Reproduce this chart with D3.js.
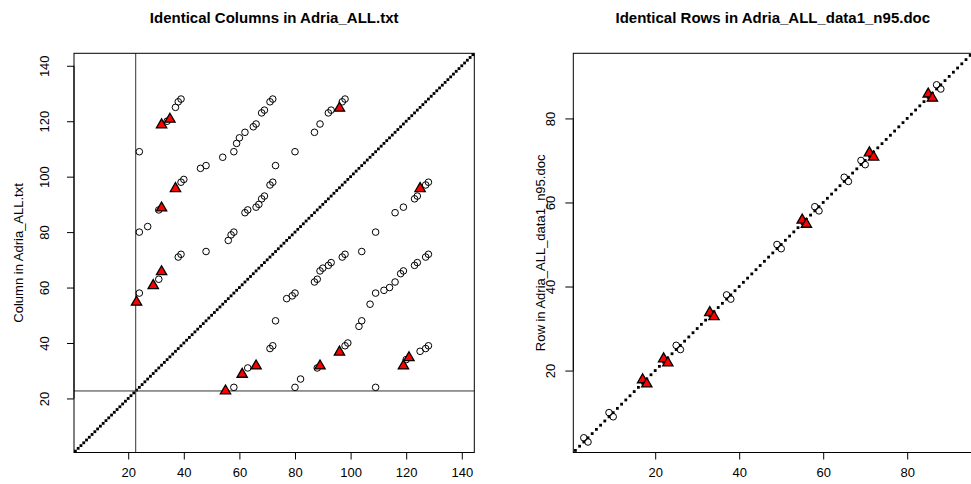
<!DOCTYPE html>
<html>
<head>
<meta charset="utf-8">
<script src="https://cdn.jsdelivr.net/npm/d3@7"></script>
<style>
  html, body { margin: 0; padding: 0; background: #fff; }
  svg { display: block; }
  text { font-family: "Liberation Sans", Arial, Helvetica, sans-serif; fill: #000; }
</style>
</head>
<body>
<svg id="chart" width="971" height="484"></svg>
<script>
// ---- Identical columns (Adria_ALL.txt): 144 columns ----
const nCols = 144;
const colCircleX = [109,125,127,128,120,103,104,98,99,88,80,82,73,71,72,63,58,107,109,112,114,116,118,119,123,124,127,128,109,116,119,123,124,104,97,98,89,90,92,93,87,88,77,79,80,127,128,
                    24,37,38,39,34,46,48,39,40,31,24,27,48,38,39,31,24,54,58,59,60,62,65,66,68,69,71,72,80,87,89,92,93,73,71,72,66,67,68,69,62,63,56,57,58,97,98];
const colCircleY = [24,37,38,39,34,46,48,39,40,31,24,27,48,38,39,31,24,54,58,59,60,62,65,66,68,69,71,72,80,87,89,92,93,73,71,72,66,67,68,69,62,63,56,57,58,97,98,
                    109,125,127,128,120,103,104,98,99,88,80,82,73,71,72,63,58,107,109,112,114,116,118,119,123,124,127,128,109,116,119,123,124,104,97,98,89,90,92,93,87,88,77,79,80,127,128];
const colTriX = [55,61,66,89,96,119,121,125, 23,29,32,32,37,32,35,96];
const colTriY = [23,29,32,32,37,32,35,96, 55,61,66,89,96,119,121,125];
const colMarker = 22.7;          // reference column drawn as cross-hair
const colTicks = [20,40,60,80,100,120,140];

// ---- Identical rows (Adria_ALL_data1_n95.doc): 95 rows ----
const nRows = 95;
const rowCircleX = [3,4,9,10,25,26,37,38,49,50,58,59,65,66,69,70,87,88];
const rowCircleY = [4,3,10,9,26,25,38,37,50,49,59,58,66,65,70,69,88,87];
const rowTriX = [17,18,22,23,33,34,55,56,71,72,85,86];
const rowTriY = [18,17,23,22,34,33,56,55,72,71,86,85];
const rowTicks = [20,40,60,80];

const svg = d3.select("#chart");

function panel(opts) {
  const g = svg.append("g");
  const x = d3.scaleLinear().domain([0.5, opts.n + 0.5]).range([opts.left, opts.right]);
  const y = d3.scaleLinear().domain([0.5, opts.n + 0.5]).range([opts.bottom, opts.top]);

  // diagonal: every item is identical to itself
  const diag = d3.range(1, opts.n + 1);
  const sq = 2.8;
  g.append("g").selectAll("rect").data(diag).join("rect")
    .attr("x", d => x(d) - sq / 2).attr("y", d => y(d) - sq / 2)
    .attr("width", sq).attr("height", sq).attr("fill", "#000");

  if (opts.marker != null) {
    g.append("line").attr("x1", x(opts.marker)).attr("x2", x(opts.marker))
      .attr("y1", opts.top).attr("y2", opts.bottom)
      .attr("stroke", "#333").attr("stroke-width", 1);
    g.append("line").attr("y1", y(opts.marker)).attr("y2", y(opts.marker))
      .attr("x1", opts.left).attr("x2", opts.right)
      .attr("stroke", "#333").attr("stroke-width", 1);
  }

  // duplicate pairs
  g.append("g").selectAll("circle").data(d3.range(opts.cx.length)).join("circle")
    .attr("cx", i => x(opts.cx[i])).attr("cy", i => y(opts.cy[i]))
    .attr("r", 3.3).attr("fill", "none").attr("stroke", "#000").attr("stroke-width", 1);

  const tri = d3.symbol().type(d3.symbolTriangle).size(46);
  g.append("g").selectAll("path").data(d3.range(opts.tx.length)).join("path")
    .attr("d", tri)
    .attr("transform", i => `translate(${x(opts.tx[i])},${y(opts.ty[i]) + 0.8})`)
    .attr("fill", "#ff0000").attr("stroke", "#000").attr("stroke-width", 1.3)
    .attr("stroke-linejoin", "miter");

  // frame
  g.append("rect").attr("x", opts.left).attr("y", opts.top)
    .attr("width", opts.right - opts.left).attr("height", opts.bottom - opts.top)
    .attr("fill", "none").attr("stroke", "#000").attr("stroke-width", 1);

  // axes
  const xa = g.append("g").attr("transform", `translate(0,${opts.bottom})`)
    .call(d3.axisBottom(x).tickValues(opts.ticks).tickSize(7).tickPadding(8).tickSizeOuter(0));
  xa.select(".domain").attr("d", `M${x(opts.ticks[0])},0H${x(opts.ticks[opts.ticks.length - 1])}`);
  xa.selectAll("text").attr("font-size", 13).attr("font-family", "Liberation Sans, Arial, sans-serif");

  const ya = g.append("g").attr("transform", `translate(${opts.left},0)`)
    .call(d3.axisLeft(y).tickValues(opts.ticks).tickSize(opts.tickLen).tickSizeOuter(0));
  ya.select(".domain").attr("d", `M0,${y(opts.ticks[0])}V${y(opts.ticks[opts.ticks.length - 1])}`);
  ya.selectAll("text")
    .attr("font-size", 13).attr("font-family", "Liberation Sans, Arial, sans-serif")
    .attr("text-anchor", "middle").attr("x", null).attr("dy", null)
    .attr("transform", `translate(${opts.tickLabelX - opts.left},0) rotate(-90)`)
    .attr("dy", "0.35em");

  // titles
  g.append("text").attr("x", (opts.left + opts.right) / 2).attr("y", 23)
    .attr("text-anchor", "middle").attr("font-weight", "bold").attr("font-size", 15)
    .text(opts.title);
  g.append("text")
    .attr("transform", `translate(${opts.labelX},${(opts.top + opts.bottom) / 2}) rotate(-90)`)
    .attr("text-anchor", "middle").attr("dy", "0.35em").attr("font-size", 13)
    .text(opts.ylab);
}

panel({
  n: nCols, left: 74, right: 474.3, top: 53.3, bottom: 452.5,
  cx: colCircleX, cy: colCircleY, tx: colTriX, ty: colTriY,
  marker: colMarker, ticks: colTicks, tickLen: 7,
  title: "Identical Columns in Adria_ALL.txt",
  ylab: "Column in Adria_ALL.txt", labelX: 18, tickLabelX: 44
});

panel({
  n: nRows, left: 573.3, right: 972.3, top: 53.3, bottom: 452.5,
  cx: rowCircleX, cy: rowCircleY, tx: rowTriX, ty: rowTriY,
  marker: null, ticks: rowTicks, tickLen: 8,
  title: "Identical Rows in Adria_ALL_data1_n95.doc",
  ylab: "Row in Adria_ALL_data1_n95.doc", labelX: 540, tickLabelX: 550
});
</script>
</body>
</html>
